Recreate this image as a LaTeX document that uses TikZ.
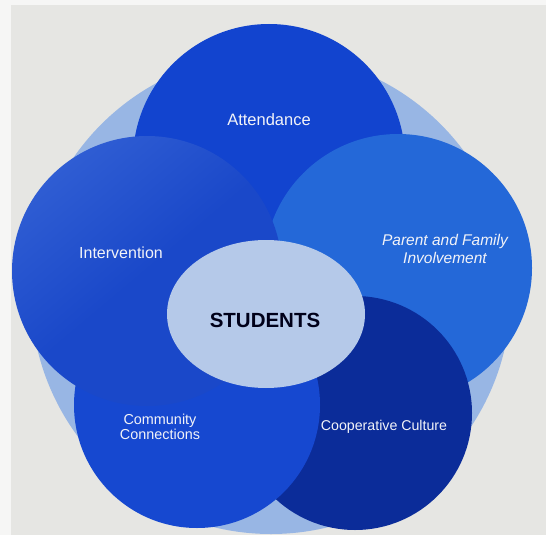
\documentclass[tikz,border=0pt]{standalone}
\usepackage{fontspec}
\setmainfont{Liberation Sans}
\usetikzlibrary{shapes.geometric}

\definecolor{paper}{HTML}{E6E6E3}
\definecolor{paperedge}{HTML}{F6F6F5}
\definecolor{halo}{HTML}{98B6E4}
\definecolor{attblue}{HTML}{1244CF}
\definecolor{parblue}{HTML}{2468D8}
\definecolor{coopblue}{HTML}{0B2C99}
\definecolor{commblue}{HTML}{1648D0}
\definecolor{intblue}{HTML}{1A48C9}
\definecolor{intlight}{HTML}{2F5DD3}
\definecolor{studfill}{HTML}{B5C9E9}
\definecolor{labelwhite}{HTML}{F2F3F8}

\tikzset{
  ring/.style={circle, draw=none, inner sep=0pt, outer sep=0pt, minimum size=#1},
  lbl/.style={text=labelwhite, align=center, inner sep=0pt},
}

\begin{document}
\begin{tikzpicture}[x=1pt,y=-1pt]
  \useasboundingbox (0,0) rectangle (546,535);
  \fill[paperedge] (0,0) rectangle (546,535);
  \fill[paper] (11,5) rectangle (546,535);

  % light disc behind the five circles
  \node[ring=480pt, fill=halo] (halo) at (271,294) {};

  \node[ring=272pt, fill=attblue] (att) at (269,160) {};
  \node[ring=268pt, fill=parblue] (par) at (398,268) {};
  \node[ring=234pt, fill=coopblue] (coop) at (355,413) {};
  \node[ring=246pt, fill=commblue] (comm) at (197,405) {};
  \node[ring=270pt, top color=intlight, bottom color=intblue, middle color=intblue, shading angle=40] (int) at (147,271) {};

  \node[ellipse, fill=studfill, inner sep=0pt, minimum width=198pt, minimum height=148pt] (stud) at (266,314) {};

  \node[lbl, font=\fontsize{16.5}{19}\selectfont] (attlbl) at (269,120) {Attendance};
  \node[lbl, font=\fontsize{16}{19}\selectfont] (intlbl) at (121,253) {Intervention};
  \node[lbl, font=\fontsize{15.5}{18}\selectfont\itshape] (parlbl) at (445,249) {Parent and Family\\Involvement};
  \node[lbl, font=\fontsize{14.4}{15.5}\selectfont] (commlbl) at (160,427) {Community\\Connections};
  \node[lbl, font=\fontsize{14.2}{17}\selectfont] (cooplbl) at (384,427) {Cooperative Culture};
  \node[text=black!90!blue, inner sep=0pt, font=\fontsize{20.5}{24}\selectfont\bfseries] (studlbl) at (265,320) {STUDENTS};
\end{tikzpicture}
\end{document}
